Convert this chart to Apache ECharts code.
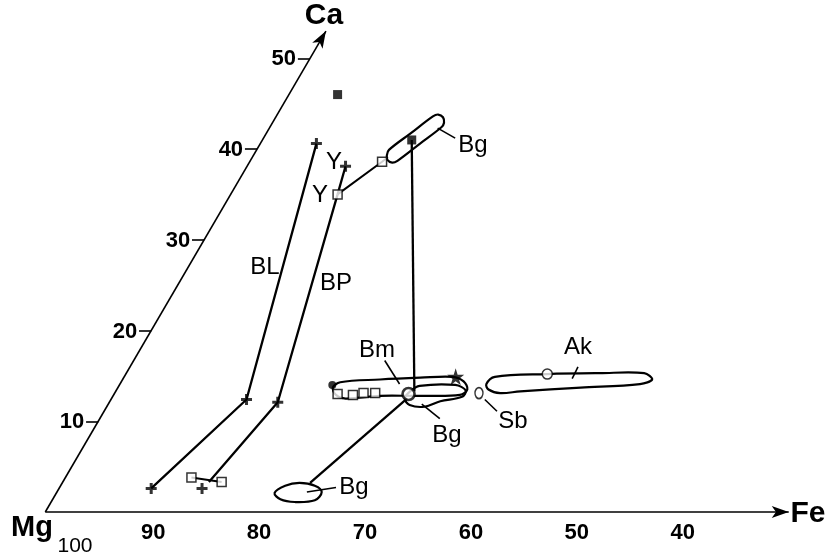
<!DOCTYPE html>
<html>
<head>
<meta charset="utf-8">
<script src="https://cdn.jsdelivr.net/npm/echarts@6/dist/echarts.min.js"></script>
<style>html,body{margin:0;padding:0;background:#fff}#c{width:829px;height:556px}</style>
</head>
<body>
<div id="c"></div>
<script>
// ---- Data: ternary compositions given as [Mg, Ca] (Fe = 100 - Mg - Ca) ----
const MG_TICKS = [90, 80, 70, 60, 50, 40];
const CA_TICKS = [10, 20, 30, 40, 50];

// tie lines / trends
const blLine = [[54.1, 40.6], [74.8, 12.4], [88.7, 2.6]];
const bpLine = [[54.9, 35.0], [72.0, 12.1], [82.9, 3.3]];
const bpTopLink = [[52.6, 38.1], [54.9, 35.0]];
const upperLink = [[54.9, 35.0], [48.9, 38.6], [48.1, 39.1]];
const verticalLink = [[44.9, 41.0], [58.5, 13.3]];
const diagonalLink = [[59.6, 12.5], [73.4, 3.2]];
const lowSquareLink = [[84.3, 3.8], [81.7, 3.3]];

// markers
const plusPts = [[54.1, 40.6], [74.8, 12.4], [88.7, 2.6], [52.6, 38.1], [72.0, 12.1], [83.9, 2.6]];
const openSquarePts = [[54.9, 35.0], [48.9, 38.6], [84.3, 3.8], [81.7, 3.3], [65.9, 13.0], [64.5, 12.9], [63.4, 13.1], [62.3, 13.1]];
const filledSquarePts = [[49.4, 46.0], [44.9, 41.0]];
const starPts = [[53.8, 14.9]];
const dotPts = [[65.9, 14.0]];
const ringPts = [[59.2, 13.0]];
const akCirclePts = [[45.0, 15.2]];
const sbPts = [[52.5, 13.1]];

// field outlines
const topBgLoop = [[40.7, 43.5], [40.9, 42.9], [41.4, 42.4], [44.4, 40.55], [47.4, 38.7], [48.0, 38.5], [48.3, 38.8], [48.1, 39.3], [47.6, 39.9], [44.6, 41.75], [41.6, 43.6], [41.0, 43.8]];
const bmLoop = [[66.0, 13.7], [65.0, 14.3], [61.1, 14.6], [57.2, 14.8], [54.1, 14.9], [53.3, 14.4], [53.4, 13.5], [54.4, 12.9], [58.2, 12.8], [62.0, 12.8], [65.4, 12.5], [66.1, 12.9]];
const midBgLoop = [[58.9, 13.3], [57.7, 13.9], [54.3, 14.0], [53.6, 13.4], [54.3, 12.7], [56.6, 12.2], [58.4, 11.6], [59.7, 11.8], [59.8, 12.5]];
const akLoop = [[51.3, 14.1], [50.1, 14.9], [45.0, 15.2], [40.0, 15.3], [35.8, 15.3], [35.4, 14.6], [36.8, 14.1], [42.6, 13.7], [48.5, 13.3], [50.5, 13.1], [51.4, 13.5]];
const lowBgLoop = [[77.3, 2.1], [75.9, 2.9], [74.4, 3.2], [73.1, 2.9], [72.8, 2.2], [73.9, 1.3], [75.9, 1.1], [77.1, 1.4]];

// label leader lines
const topBgLeader = [[41.8, 42.3], [40.7, 41.2]];
const bmLeader = [[59.6, 16.7], [59.5, 14.1]];
const midBgLeader = [[58.5, 11.9], [57.6, 10.3]];
const sbLeader = [[52.3, 12.4], [51.8, 11.1]];
const akLeader = [[41.7, 16.0], [42.9, 14.7]];
const lowBgLeader = [[74.2, 2.2], [71.2, 2.7]];

// axes extents
const mgAxisEnd = [29.8, 0];
const caAxisEnd = [47, 53];

// ---- ternary -> cartesian ----
const SQ3 = Math.sqrt(3) / 2;
function toXY(p) { return [100 - p[0] - p[1] / 2, p[1] * SQ3]; }

const FONT = '"Liberation Sans", Arial, Helvetica, sans-serif';
const BLACK = '#000';

function lineSeries(arr, width) {
  return { type: 'line', data: arr.map(toXY), symbol: 'none', clip: false, silent: true, z: 3,
    lineStyle: { color: BLACK, width: width } };
}
function markerSeries(arr, opts) {
  return Object.assign({ type: 'scatter', data: arr.map(toXY), clip: false, silent: true, z: 5 }, opts);
}

const PLUS = 'path://M4,0H7V4H11V7H7V11H4V7H0V4H4Z';
const STAR = 'path://M50,0L61,35L98,35L68,57L79,91L50,70L21,91L32,57L2,35L39,35Z';

const loops = [topBgLoop, bmLoop, midBgLoop, akLoop, lowBgLoop];

const axisLines = [
  [{ coord: toXY([100, 0]), symbol: 'none' }, { coord: toXY(mgAxisEnd), symbol: 'arrow', symbolSize: [9, 17] }],
  [{ coord: toXY([100, 0]), symbol: 'none' }, { coord: toXY(caAxisEnd), symbol: 'arrow', symbolSize: [9, 17] }]
];
CA_TICKS.forEach(c => axisLines.push([{ coord: toXY([100 - c, c]), symbol: 'none' }, { coord: toXY([100 - c + 1.15, c]), symbol: 'none' }]));
MG_TICKS.forEach(m => axisLines.push([{ coord: toXY([m, 0]), symbol: 'none' }, { coord: toXY([m, -0.8]), symbol: 'none' }]));

const series = [
  { type: 'line', data: [], silent: true, clip: false,
    markLine: { silent: true, animation: false, symbol: ['none', 'none'], label: { show: false },
      lineStyle: { color: BLACK, width: 1.6, type: 'solid' }, emphasis: { disabled: true }, data: axisLines } },
  lineSeries(blLine, 2.3),
  lineSeries(bpLine, 2.3),
  lineSeries(bpTopLink, 2.3),
  lineSeries(upperLink, 2),
  lineSeries(verticalLink, 2.3),
  lineSeries(diagonalLink, 2.3),
  lineSeries(lowSquareLink, 2),
  lineSeries(topBgLeader, 1.6),
  lineSeries(bmLeader, 1.6),
  lineSeries(midBgLeader, 1.6),
  lineSeries(sbLeader, 1.6),
  lineSeries(akLeader, 1.6),
  lineSeries(lowBgLeader, 1.6),
  { type: 'custom', coordinateSystem: 'cartesian2d', silent: true, z: 4, clip: false,
    data: loops.map((_, i) => [i]),
    renderItem: (params, api) => ({
      type: 'polygon',
      shape: { points: loops[params.dataIndex].map(p => api.coord(toXY(p))), smooth: 0.35 },
      style: { fill: 'none', stroke: BLACK, lineWidth: 2.2 }
    }) },
  markerSeries(plusPts, { symbol: PLUS, symbolSize: 11, itemStyle: { color: BLACK } }),
  markerSeries(openSquarePts, { symbol: 'rect', symbolSize: 9, itemStyle: { color: '#fff', borderColor: BLACK, borderWidth: 1.5 } }),
  markerSeries(filledSquarePts, { symbol: 'rect', symbolSize: 9, itemStyle: { color: BLACK } }),
  markerSeries(starPts, { symbol: STAR, symbolSize: 17, itemStyle: { color: BLACK } }),
  markerSeries(dotPts, { symbol: 'circle', symbolSize: 8, itemStyle: { color: BLACK } }),
  markerSeries(ringPts, { symbol: 'circle', symbolSize: 12, itemStyle: { color: '#fff', borderColor: BLACK, borderWidth: 2.6 } }),
  markerSeries(akCirclePts, { symbol: 'circle', symbolSize: 10, itemStyle: { color: '#fff', borderColor: BLACK, borderWidth: 1.5 } }),
  markerSeries(sbPts, { symbol: 'circle', symbolSize: [8, 11], itemStyle: { color: '#fff', borderColor: BLACK, borderWidth: 1.6 } })
];

function txt(text, x, y, size, bold, align) {
  return { type: 'text', x: x, y: y, z: 10, silent: true,
    style: { text: text, fill: BLACK, font: (bold ? 'bold ' : '') + size + 'px ' + FONT,
      align: align || 'center', verticalAlign: 'middle',
      textAlign: align || 'center', textVerticalAlign: 'middle' } };
}

const chart = echarts.init(document.getElementById('c'), null, { renderer: 'canvas' });
chart.setOption({
  backgroundColor: '#fff',
  animation: false,
  grid: { left: 45.3, right: 21.2, top: 30, bottom: 44, containLabel: false },
  xAxis: { type: 'value', min: 0, max: 72, show: false },
  yAxis: { type: 'value', min: 0, max: 46, show: false },
  series: series
});

// tick labels placed through the chart's own coordinate conversion
const graphics = [];
CA_TICKS.forEach(c => {
  const p = chart.convertToPixel({ gridIndex: 0 }, toXY([100 - c, c]));
  graphics.push(txt(String(c), p[0] - 14, p[1] + 1, 22, true, 'right'));
});
MG_TICKS.forEach(m => {
  const p = chart.convertToPixel({ gridIndex: 0 }, toXY([m, 0]));
  graphics.push(txt(String(m), p[0] + 2, p[1] + 21, 22, true, 'center'));
});
graphics.push(
  txt('Ca', 324, 16, 30, true),
  txt('Fe', 808, 514, 30, true),
  txt('Mg', 32, 528, 29, true),
  txt('100', 75, 546, 21, false),
  txt('BL', 265, 267, 24, false),
  txt('BP', 336, 283, 24, false),
  txt('Y', 334, 162, 24, false),
  txt('Y', 320, 195, 24, false),
  txt('Bg', 473, 145, 24, false),
  txt('Bm', 377, 350, 24, false),
  txt('Bg', 447, 435, 24, false),
  txt('Sb', 513, 421, 24, false),
  txt('Ak', 578, 347, 24, false),
  txt('Bg', 354, 487, 24, false)
);
chart.setOption({ graphic: graphics });
</script>
</body>
</html>
